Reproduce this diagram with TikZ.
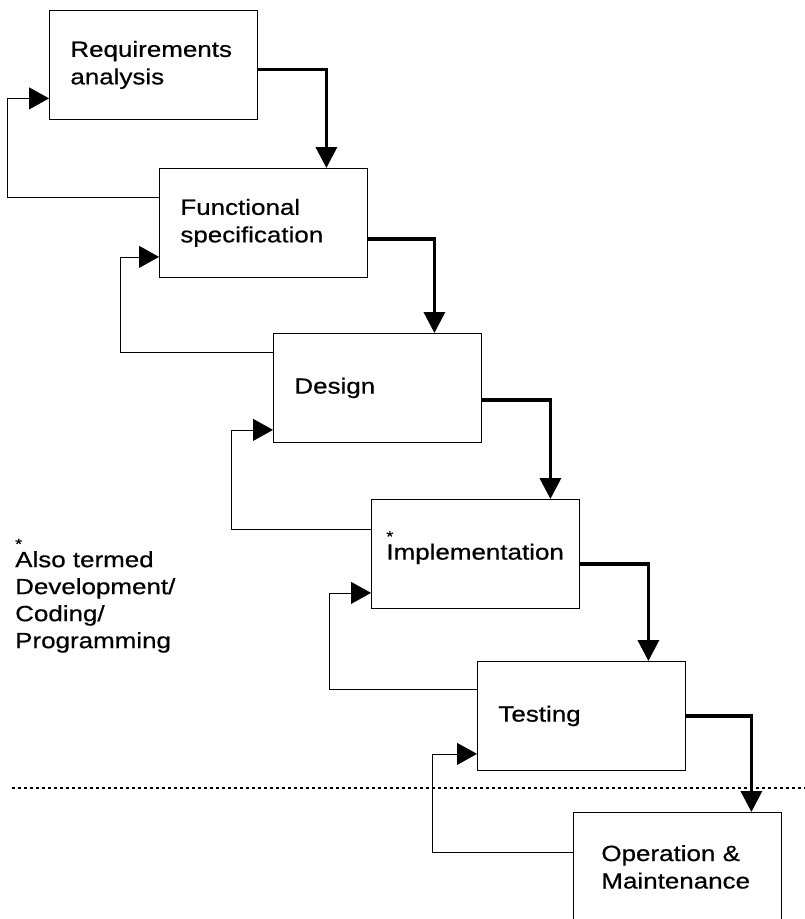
\documentclass[tikz,border=0pt]{standalone}
\usepackage{fontspec}
\setmainfont[FakeStretch=1.18,FakeBold=0.6]{Liberation Sans}
\usetikzlibrary{arrows.meta}
\tikzset{
  stage/.style={draw, line width=0.8pt, anchor=north west, minimum width=208pt,
    minimum height=109pt, text width=166pt, inner xsep=21pt, align=left,
    font=\fontsize{22}{27.5}\selectfont},
  flow/.style={line width=3.5pt, -{Triangle[length=21pt,width=21pt]}},
  back/.style={line width=0.8pt, -{Triangle[length=20pt,width=22pt]}},
  note/.style={anchor=north west, inner sep=0pt, align=left,
    font=\fontsize{22}{27}\selectfont},
}
\newcommand{\starmark}{\makebox[0pt][l]{\raisebox{18pt}[0pt][0pt]{\fontsize{15}{15}\selectfont *}}}
\begin{document}
\begin{tikzpicture}[x=1pt,y=-1pt]
      \useasboundingbox (0,0) rectangle (805,919);
      % phases
      \node[stage] (req) at (49,10) {Requirements\\analysis};
      \node[stage] (func) at (159,168) {Functional\\specification};
      \node[stage] (des) at (273,333) {Design};
      \node[stage, inner xsep=15pt, text width=178pt] (impl) at (371,499) {\starmark Implementation};
      \node[stage] (test) at (477,661) {Testing};
      \node[stage, inner xsep=28pt, text width=152pt] (oper) at (573,812) {Operation \&\\Maintenance};
      % forward flow
      \draw[flow] ([yshift=-4.5pt]req.east) -| ([xshift=63pt]func.north);
      \draw[flow] ([yshift=-16pt]func.east) -| ([xshift=57pt]des.north);
      \draw[flow] ([yshift=-12pt]des.east) -| ([xshift=75pt]impl.north);
      \draw[flow] ([yshift=-10pt]impl.east) -| ([xshift=67pt]test.north);
      \draw[flow] (test.east) -| ([xshift=74pt]oper.north);
      % feedback
      \draw[back] ([yshift=26pt]func.west) -- ++(-152,0) |- ([yshift=-33.5pt]req.west);
      \draw[back] ([yshift=36pt]des.west) -- ++(-153,0) |- ([yshift=-34pt]func.west);
      \draw[back] ([yshift=25pt]impl.west) -- ++(-140,0) |- ([yshift=-42pt]des.west);
      \draw[back] ([yshift=27pt]test.west) -- ++(-148,0) |- ([yshift=-39pt]impl.west);
      \draw[back] ([yshift=15pt]oper.west) -- ++(-141,0) |- ([yshift=-38pt]test.west);
      % boundary
      \draw[line width=2pt, dash pattern=on 3pt off 3pt] (12,788) -- (805,788);
      \node[note] (note) at (15,551) {\starmark Also termed\\Development/\\Coding/\\Programming};
    \end{tikzpicture}
\end{document}
